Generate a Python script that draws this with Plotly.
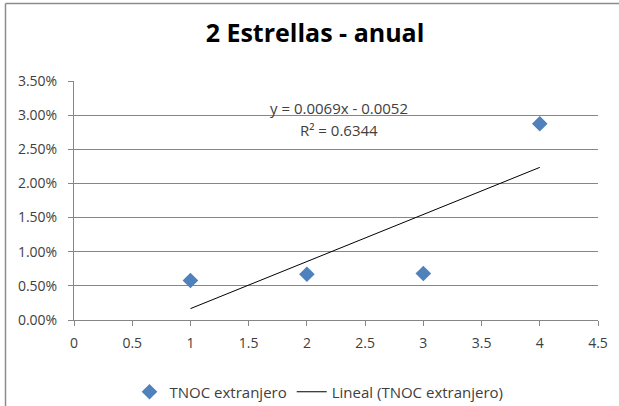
import numpy as np
import plotly.graph_objects as go

x_vals = [1, 2, 3, 4]
y_vals = [0.00578, 0.00671, 0.00681, 0.02873]
series_name = "TNOC extranjero"
trend_name = "Lineal (TNOC extranjero)"
title_text = "2 Estrellas - anual"
eq_text = "y = 0.0069x - 0.0052"
r2_text = "R² = 0.6344"

slope, intercept = np.polyfit(x_vals, y_vals, 1)
trend_x = [min(x_vals), max(x_vals)]
trend_y = [slope * v + intercept for v in trend_x]

FONT = "Open Sans"
TXT = "#404040"
GRID = "#868686"

fig = go.Figure()
fig.add_trace(go.Scatter(
    x=x_vals, y=y_vals, mode="markers", name=series_name,
    marker=dict(symbol="diamond", size=12, color="#4F81BD"),
))
fig.add_trace(go.Scatter(
    x=trend_x, y=trend_y, mode="lines", name=trend_name,
    line=dict(color="#000000", width=1),
))

l, r, t, b = 74, 21, 81, 86
W, H = 619, 406
pw, ph = W - l - r, H - t - b
def px(v):
    return (v - l) / pw
def py(v):
    return (H - b - v) / ph

fig.add_annotation(x=px(339), y=py(108), xref="paper", yref="paper", text=eq_text,
                   xanchor="center", yanchor="middle",
                   showarrow=False, font=dict(family=FONT, size=15, color=TXT))
fig.add_annotation(x=px(339), y=py(130), xref="paper", yref="paper", text=r2_text,
                   xanchor="center", yanchor="middle",
                   showarrow=False, font=dict(family=FONT, size=15, color=TXT))

fig.add_shape(type="line", xref="paper", yref="paper",
              x0=px(5.5), x1=px(5.5), y0=py(410), y1=py(3.5),
              line=dict(color="#8C8C8C", width=1.5))
fig.add_shape(type="line", xref="paper", yref="paper",
              x0=px(5.5), x1=px(625), y0=py(3.5), y1=py(3.5),
              line=dict(color="#8C8C8C", width=1.5))

fig.update_layout(
    width=W, height=H,
    margin=dict(l=l, r=r, t=t, b=b, autoexpand=False),
    paper_bgcolor="white", plot_bgcolor="white",
    title=dict(text=f"<b>{title_text}</b>", x=315 / W, xanchor="center",
               y=1 - 33 / H, yanchor="middle",
               font=dict(family=FONT, size=25, color="#000000")),
    font=dict(family=FONT, size=14, color=TXT),
    showlegend=True,
    legend=dict(orientation="h", x=px(319), xanchor="center", y=py(392), yanchor="middle",
                itemwidth=30,
                font=dict(family=FONT, size=15, color=TXT), bgcolor="rgba(0,0,0,0)"),
    xaxis=dict(range=[0, 4.5], dtick=0.5, tick0=0, showgrid=False, zeroline=False,
               showline=True, linecolor=GRID, linewidth=1, ticks="outside", ticklen=5,
               tickcolor=GRID, ticklabelstandoff=5, automargin=False,
               tickfont=dict(family=FONT, size=14, color=TXT)),
    yaxis=dict(range=[0, 0.035], dtick=0.005, tick0=0, tickformat=".2%", showgrid=True,
               gridcolor=GRID, gridwidth=1, zeroline=False, showline=True,
               linecolor=GRID, linewidth=1, ticks="outside", ticklen=5, tickcolor=GRID,
               ticklabelstandoff=8, automargin=False,
               tickfont=dict(family=FONT, size=14, color=TXT)),
)

fig.write_html("out.html")
